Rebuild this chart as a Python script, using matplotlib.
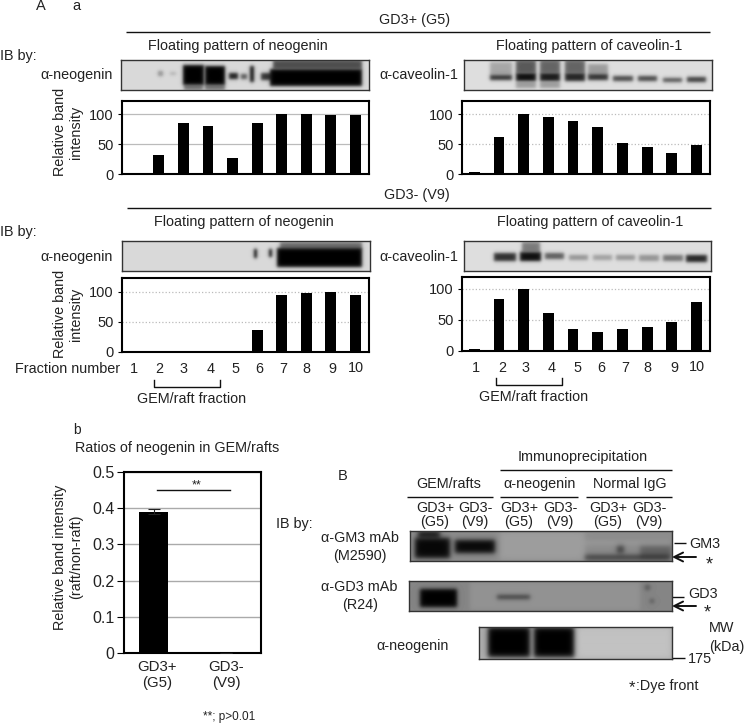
#!/usr/bin/env python3
# -*- coding: utf-8 -*-

"""
Neogenin / caveolin-1 floating patterns, raft ratio and immunoprecipitation blots
"""

import numpy as np
import matplotlib
matplotlib.use('Agg')
import matplotlib.pyplot as plt

plt.rcParams['font.family'] = ['Liberation Sans', 'DejaVu Sans']

FIG_W, FIG_H = 745, 725
TEXT_COLOR = '#222222'

# Bar values
fractions = [1, 2, 3, 4, 5, 6, 7, 8, 9, 10]
neogenin_g5 = [1, 31, 85, 81, 26, 85, 100, 100, 99, 99]
caveolin_g5 = [4, 62, 100, 95, 88, 79, 51, 45, 35, 49]
neogenin_v9 = [0, 0, 0, 0, 0, 37, 95, 98, 100, 95]
caveolin_v9 = [3, 84, 100, 61, 36, 31, 36, 38, 47, 79]
pct_ticks = [0, 50, 100]

ratio_labels = ['GD3+\n(G5)', 'GD3-\n(V9)']
ratio_values = [0.39, 0.0]
ratio_errors = [0.007, 0.0]
ratio_ticks = [0, 0.1, 0.2, 0.3, 0.4, 0.5]
ratio_tick_labels = ['0', '0.1', '0.2', '0.3', '0.4', '0.5']

# Blot bands: x0, x1, y0, y1 (picture pixels), darkness
blot_neo_g5 = [
    (158, 163, 71, 76, .35), (170, 176, 72, 75, .2),
    (183, 204, 65, 85, 1.0), (184, 203, 85, 90, .5),
    (205, 225, 66, 85, 1.0), (205, 225, 85, 90, .5),
    (229, 238, 73, 79, .9), (241, 247, 74, 79, .65), (250, 254, 66, 82, .95),
    (261, 272, 73, 80, .8), (270, 362, 69, 86, 1.0), (273, 362, 60, 69, .65),
]
blot_cav_g5 = [
    (490, 512, 75, 80, .8), (490, 512, 62, 75, .25),
    (516, 536, 73, 81, .95), (516, 536, 60, 73, .6), (516, 536, 82, 88, .3),
    (540, 560, 73, 81, .9), (540, 560, 60, 73, .55), (540, 560, 82, 88, .3),
    (565, 585, 73, 81, .85), (565, 585, 60, 73, .55),
    (588, 608, 74, 80, .8), (588, 608, 64, 74, .3),
    (613, 633, 76, 81, .7), (638, 657, 76, 81, .7),
    (663, 682, 78, 82, .65), (687, 706, 77, 82, .75),
]
blot_neo_v9 = [
    (254, 257, 249, 258, 1.0), (269, 272, 249, 257, 1.0),
    (277, 362, 248, 267, 1.0), (280, 362, 242, 249, .5),
]
blot_cav_v9 = [
    (494, 516, 253, 261, .8), (520, 541, 252, 261, .95), (522, 540, 242, 252, .45),
    (545, 564, 253, 259, .6), (569, 588, 255, 260, .35), (593, 612, 255, 260, .3),
    (616, 635, 255, 260, .35), (639, 659, 255, 261, .35),
    (663, 683, 255, 261, .5), (686, 707, 255, 262, .85),
]
blot_gm3 = [
    (415, 450, 538, 558, .95), (418, 440, 531, 538, .85), (455, 495, 540, 553, .95),
    (500, 585, 532, 560, -.12), (585, 670, 555, 560, .6), (617, 624, 546, 553, .6),
    (585, 670, 541, 545, -.1), (640, 672, 546, 558, .3),
]
blot_gd3 = [
    (420, 457, 589, 607, 1.0), (497, 530, 595, 599, .6),
    (645, 650, 585, 590, .4), (650, 654, 599, 603, .4), (470, 640, 582, 610, -.1),
]
blot_neo_b = [
    (488, 530, 628, 657, 1.0), (534, 574, 628, 657, 1.0), (576, 671, 628, 658, -.12),
]


def add_axes_px(fig, x0, y0, x1, y1):
    """Axes placed by picture pixels (y measured from the top)"""
    return fig.add_axes([x0 / FIG_W, 1 - y1 / FIG_H, (x1 - x0) / FIG_W, (y1 - y0) / FIG_H])


def draw_blot(fig, box, bands, bg, soft=2.0):
    """Blot strip as a grey image, bands are soft rectangles"""
    x0, y0, x1, y1 = box
    ax = add_axes_px(fig, x0, y0, x1, y1)
    xs = np.arange(x0, x1) + 0.5
    ys = np.arange(y0, y1) + 0.5
    xx, yy = np.meshgrid(xs, ys)
    img = np.full(xx.shape, float(bg))
    for bx0, bx1, by0, by1, dark in bands:
        mx = 0.5 * (np.tanh((xx - bx0) / soft) - np.tanh((xx - bx1) / soft))
        my = 0.5 * (np.tanh((yy - by0) / soft) - np.tanh((yy - by1) / soft))
        img = img * (1 - dark * mx * my)
    ax.imshow(np.clip(img, 0, 1), cmap='gray', vmin=0, vmax=1, aspect='auto',
              interpolation='bilinear')
    ax.set_xticks([])
    ax.set_yticks([])
    for spine in ax.spines.values():
        spine.set_linewidth(1.0)
        spine.set_color('#333333')
    return ax


def draw_bars(fig, box, values, top, grid_style):
    """Relative band intensity bars for the ten fractions"""
    ax = add_axes_px(fig, *box)
    ax.bar(fractions, values, width=0.44, color='black', zorder=3)
    ax.set_xlim(0.5, 10.55)
    ax.set_ylim(0, top)
    ax.set_xticks([])
    ax.set_yticks(pct_ticks)
    ax.tick_params(axis='y', labelsize=10.5, length=3, width=0.8, pad=3, labelcolor=TEXT_COLOR)
    ax.grid(axis='y', color='#bbbbbb', linestyle=grid_style, linewidth=0.9, zorder=0)
    for spine in ax.spines.values():
        spine.set_linewidth(1.5)
    return ax


fig = plt.figure(figsize=(FIG_W / 100, FIG_H / 100), dpi=100)

# Overlay for free text and lines, in picture pixels
page = fig.add_axes([0, 0, 1, 1])
page.set_xlim(0, FIG_W)
page.set_ylim(FIG_H, 0)
page.axis('off')


def label(x, y, s, ha='center', size=10.4, **kw):
    page.text(x, y, s, ha=ha, va='center', fontsize=size, color=TEXT_COLOR, **kw)


def hline(x0, x1, y, lw=1.0):
    page.plot([x0, x1], [y, y], color='#111111', lw=lw, solid_capstyle='butt')


# Panel A
label(41, 6, 'A', size=10.5)
label(76, 6, 'a', size=10.5)
label(415, 20, 'GD3+ (G5)')
hline(126, 710, 32)
label(238, 46, 'Floating pattern of neogenin')
label(589, 46, 'Floating pattern of caveolin-1')
label(0, 56, 'IB by:', ha='left')
label(113, 75, '\u03b1-neogenin', ha='right')
label(458, 75, '\u03b1-caveolin-1', ha='right')

label(417, 195, 'GD3- (V9)')
hline(127, 711, 208)
label(244, 222, 'Floating pattern of neogenin')
label(590, 222, 'Floating pattern of caveolin-1')
label(0, 232, 'IB by:', ha='left')
label(113, 257, '\u03b1-neogenin', ha='right')
label(458, 257, '\u03b1-caveolin-1', ha='right')

draw_blot(fig, (121, 60, 369, 90), blot_neo_g5, 0.85)
draw_blot(fig, (464, 60, 712, 90), blot_cav_g5, 0.87)
draw_blot(fig, (122, 241, 370, 271), blot_neo_v9, 0.85)
draw_blot(fig, (464, 241, 711, 271), blot_cav_v9, 0.87)

draw_bars(fig, (122, 101, 369, 174), neogenin_g5, 122, '-')
draw_bars(fig, (462, 101, 710, 174), caveolin_g5, 122, ':')
draw_bars(fig, (122, 278, 369, 352), neogenin_v9, 123, ':')
draw_bars(fig, (462, 277, 710, 351), caveolin_v9, 119, ':')

for x_mid, y_mid in [(68, 132), (68, 314)]:
    label(x_mid, y_mid, 'Relative band\nintensity', rotation=90, linespacing=1.25,
          multialignment='center')

label(15, 369, 'Fraction number', ha='left')
fraction_x_left = [134, 159, 184, 211, 235, 259, 283, 306, 332, 356]
fraction_x_right = [476, 502, 526, 552, 577, 601, 625, 647, 674, 697]
for i, frac in enumerate(fractions):
    dy = -1 if frac == 10 else 0
    label(fraction_x_left[i], 369 + dy, str(frac))
    label(fraction_x_right[i], 368 + dy, str(frac))

page.plot([154, 154, 220, 220], [380, 387, 387, 380], color='#111111', lw=1.0)
page.plot([496, 496, 562, 562], [378, 385, 385, 378], color='#111111', lw=1.0)
label(192, 399, 'GEM/raft fraction')
label(534, 397, 'GEM/raft fraction')

# Panel b
label(77, 430, 'b', size=10)
label(75, 448, 'Ratios of neogenin in GEM/rafts', ha='left')

ax_ratio = add_axes_px(fig, 124, 472, 261, 653)
ax_ratio.bar([0, 1], ratio_values, width=0.4, color='black', zorder=3,
             yerr=ratio_errors, error_kw=dict(ecolor='#222222', lw=0.8, capsize=4, capthick=0.8))
ax_ratio.set_xlim(-0.41, 1.49)
ax_ratio.set_ylim(0, 0.5)
ax_ratio.set_xticks([])
ax_ratio.set_yticks(ratio_ticks)
ax_ratio.set_yticklabels(ratio_tick_labels)
ax_ratio.tick_params(axis='y', labelsize=11.5, length=5, width=0.8, pad=2, labelcolor=TEXT_COLOR)
ax_ratio.grid(axis='y', color='#aaaaaa', linewidth=1.0, zorder=0)
for spine in ax_ratio.spines.values():
    spine.set_linewidth(1.5)

label(157, 675, ratio_labels[0], size=10.8, linespacing=1.2)
label(226, 675, ratio_labels[1], size=10.8, linespacing=1.2)
label(68, 557, 'Relative band intensity\n(raft/non-raft)', rotation=90, size=10.4,
      linespacing=1.2, multialignment='center')
label(203, 717, '**; p>0.01', ha='left', size=8.5)
ax_ratio.plot([0.05, 1.06], [0.45, 0.45], color='#111111', lw=1.0, zorder=4)
ax_ratio.text(0.6, 0.463, '**', ha='center', va='center', fontsize=9, color=TEXT_COLOR)

# Panel B
label(343, 476, 'B', size=10.5)
label(583, 457, 'Immunoprecipitation')
hline(500, 672, 470)
label(449, 484, 'GEM/rafts')
label(540, 484, '\u03b1-neogenin')
label(630, 484, 'Normal IgG')
hline(407, 493, 497)
hline(500, 578, 497)
hline(586, 672, 497)

lane_x = [435, 475, 519, 560, 608, 649]
lane_top = ['GD3+', 'GD3-', 'GD3+', 'GD3-', 'GD3+', 'GD3-']
lane_bottom = ['(G5)', '(V9)', '(G5)', '(V9)', '(G5)', '(V9)']
for x, top_s, bottom_s in zip(lane_x, lane_top, lane_bottom):
    label(x, 508, top_s)
    label(x, 522, bottom_s)

label(276, 524, 'IB by:', ha='left')
label(360, 538, '\u03b1-GM3 mAb')
label(360, 556, '(M2590)')
label(359, 587, '\u03b1-GD3 mAb')
label(360, 605, '(R24)')
label(413, 646, '\u03b1-neogenin')

draw_blot(fig, (410, 531, 672, 561), blot_gm3, 0.55, soft=3)
draw_blot(fig, (409, 581, 672, 611), blot_gd3, 0.52, soft=2.5)
draw_blot(fig, (479, 627, 672, 659), blot_neo_b, 0.68, soft=3)

hline(674, 686, 543)
label(689, 544, 'GM3', ha='left')
hline(672, 684, 597)
label(688, 594, 'GD3', ha='left')
hline(672, 685, 658)
label(688, 659, '175', ha='left')
label(722, 628, 'MW')
label(727, 647, '(kDa)')

for y, x_star, y_star in [(557, 709, 565), (606, 707, 613)]:
    page.annotate('', xy=(672, y), xytext=(696, y),
                  arrowprops=dict(arrowstyle='->', mutation_scale=16, lw=1.4, color='#111111',
                                  shrinkA=0, shrinkB=0))
    label(x_star, y_star, '*', size=13)

label(629, 688, '*', ha='left', size=12)
label(636, 686, ':Dye front', ha='left')

fig.savefig('out.png', dpi=100)
